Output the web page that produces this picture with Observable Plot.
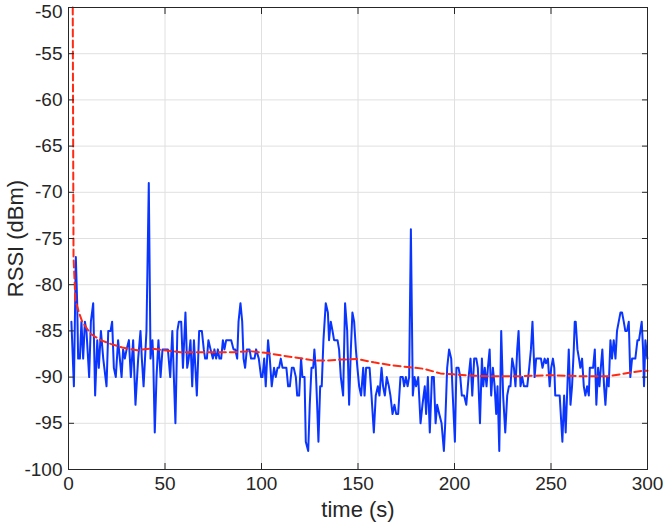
<!DOCTYPE html>
<html><head><meta charset="utf-8">
<script src="https://cdn.jsdelivr.net/npm/d3@7"></script>
<script src="https://cdn.jsdelivr.net/npm/@observablehq/plot@0.6"></script>
<style>body{margin:0;background:#fff} svg{font-family:"Liberation Sans",Arial,sans-serif}</style>
</head><body><div id="chart"></div>
<script>
const blueTime = [1.5,2.8,3.8,4.5,5.0,5.9,6.7,7.6,8.5,9.3,10.7,11.6,12.8,13.8,14.9,15.7,16.8,18.0,19.7,20.6,21.8,22.6,23.5,24.5,25.7,26.6,27.5,28.3,29.2,30.1,31.3,32.3,33.5,34.7,36.1,37.3,38.0,38.9,40.4,41.6,42.5,43.5,43.9,44.7,45.6,46.6,47.7,48.7,49.9,
51.5,52.7,53.8,55.4,56.4,57.2,58.4,59.3,60.6,61.5,62.3,63.2,64.1,65.0,66.5,67.7,69.1,70.1,70.8,71.7,72.5,73.6,74.8,75.6,76.5,77.4,78.2,79.1,80.0,80.8,81.7,82.9,84.3,85.5,86.4,87.4,88.1,89.1,90.0,90.7,91.5,92.4,93.8,94.6,96.4,97.2,98.6,99.8,
100.5,101.4,102.2,103.4,104.3,105.3,106.5,107.4,108.3,109.1,110.0,110.9,111.9,112.9,113.8,114.7,115.7,116.7,117.8,118.5,119.5,120.5,121.2,122.3,122.95,124.2,125.0,125.9,126.8,127.4,128.1,129.0,129.5,130.4,131.2,132.1,133.3,134.4,135.0,135.9,136.8,137.6,138.5,139.4,140.2,141.1,142.3,143.3,144.4,145.4,146.3,147.1,148.0,148.9,149.7,150.6,
151.6,152.7,153.4,154.2,155.1,156.0,157.0,158.2,159.2,160.3,161.1,162.2,163.0,163.9,164.9,166.0,166.8,167.9,168.9,169.8,170.8,172.0,173.2,173.9,174.8,175.7,176.5,177.4,178.4,179.3,180.1,181.2,182.4,183.4,184.6,185.3,186.2,187.2,188.3,189.3,190.2,191.0,192.1,193.3,194.5,195.2,196.2,197.2,198.3,199.1,200.2,201.0,
202.1,203.0,203.8,205.0,206.1,207.3,208.3,209.2,210.2,211.3,212.1,213.2,214.2,214.9,215.7,216.6,217.3,218.2,219.0,219.9,220.8,221.6,222.3,223.2,224.2,225.2,226.3,227.3,228.2,229.0,229.9,230.8,231.6,232.5,233.2,234.2,235.1,236.0,236.6,237.7,238.7,239.6,240.4,241.5,242.3,243.6,244.8,245.6,246.7,247.4,248.4,249.3,250.1,251.0,251.7,252.2,
252.8,254.5,255.9,256.8,257.6,258.5,259.2,260.1,260.9,261.8,262.3,262.8,263.7,264.5,265.2,266.1,267.0,267.8,268.7,269.6,270.1,270.9,271.8,272.7,273.5,274.4,275.1,275.8,276.6,277.5,278.2,279.1,279.9,280.8,281.6,282.5,283.4,284.2,285.1,286.0,286.8,287.7,288.5,289.4,290.3,291.1,292.0,292.9,293.7,294.8,295.6,296.3,297.0,297.7,298.2,298.9,299.4,299.9];
const blueRssi = [-84,-91,-77,-82,-88,-88,-84,-88,-84,-85,-90,-84,-82,-92,-86,-89,-85,-88,-91,-85,-85,-84,-89,-90,-86,-88,-90,-87,-88,-87,-86,-90,-86,-93,-88,-85,-88,-91,-85,-69,-88,-86,-88,-96,-90,-86,-90,-87,-87,
-87,-90,-85,-95,-85,-84,-84,-89,-83,-89,-88,-86,-91,-86,-92,-85,-85,-87,-88,-88,-86,-87,-88,-87,-88,-87,-88,-88,-86,-87,-86,-86,-86,-87,-87,-88,-84,-82,-84,-88,-89,-87,-87,-88,-88,-87,-88,-90,
-90,-88,-91,-86,-88,-91,-89,-90,-89,-89,-88,-89,-89,-89,-91,-91,-89,-89,-90,-92,-92,-88,-90,-90,-97,-98,-93,-89,-89,-87,-89,-94,-97,-91,-91,-86,-82,-83,-86,-84,-85,-86,-86,-86,-87,-90,-92,-82,-85,-93,-87,-83,-84,-87,-89,-91,
-92,-89,-92,-89,-89,-89,-92,-96,-92,-91,-92,-89,-91,-92,-90,-91,-92,-94,-93,-94,-94,-90,-90,-91,-90,-91,-90,-74,-92,-90,-91,-90,-95,-93,-91,-94,-90,-96,-90,-90,-95,-93,-94,-95,-98,-95,-89,-87,-88,-92,-97,-89,
-89,-90,-92,-92,-93,-90,-88,-92,-88,-88,-89,-95,-88,-91,-89,-91,-89,-87,-92,-89,-91,-94,-91,-98,-85,-92,-96,-92,-91,-91,-88,-89,-91,-87,-85,-91,-90,-91,-91,-91,-89,-87,-84,-90,-88,-88,-88,-89,-88,-88.5,-88,-91,-89,-88,-89,-92,
-92,-92,-97,-92,-96,-91,-87,-93,-91,-87,-84,-84,-87,-88,-89,-88,-91,-92,-91,-92,-89,-89,-89,-87,-93,-89,-91,-89,-87,-91,-93,-90,-91,-86,-88,-86,-88,-85,-84,-83,-83,-84,-85,-85,-84,-90,-88,-88,-88,-86,-86,-85,-84,-87,-91,-86,-87,-88];
const redTime = [2.2,2.6,3.6,5.4,7.1,11.4,16.6,21.8,27.8,35.6,42.5,49.4,58,68.4,85.7,94.3,103,111.6,120.2,127.1,134,140.9,149.6,158.2,166.8,175.5,184.1,192.7,199.6,210,218,234.2,249.7,265.3,279.1,286,291.2,298.1,300];
const redRssi = [-50,-77,-81.7,-83,-84,-85.3,-86,-86.4,-86.8,-87.1,-86.9,-87.1,-87.3,-87.3,-87.3,-87.2,-87.4,-87.7,-87.95,-88.2,-88.2,-88.1,-88.05,-88.4,-88.7,-88.9,-89.1,-89.6,-89.7,-89.85,-89.9,-89.9,-89.8,-89.9,-89.9,-89.7,-89.5,-89.3,-89.3];
const xTicks = [0,50,100,150,200,250,300];
const yTicks = [-100,-95,-90,-85,-80,-75,-70,-65,-60,-55,-50];
const xLabel = "time (s)";
const yLabel = "RSSI (dBm)";

const blue = blueTime.map((t,i)=>({t, v: blueRssi[i]}));
const red = redTime.map((t,i)=>({t, v: redRssi[i]}));
const ink = "#262626";
const yTop = yTicks[yTicks.length - 1];
const yRest = yTicks.slice(0, -1);

const chart = Plot.plot({
  width: 664, height: 525,
  marginLeft: 68, marginRight: 17, marginTop: 7, marginBottom: 56,
  style: {fontFamily: '"Liberation Sans", Arial, sans-serif', fontSize: "19px", color: ink, background: "#fff"},
  x: {domain: [0, 300]},
  y: {domain: [-100, -50]},
  marks: [
    Plot.gridX(xTicks, {stroke: "#e0e0e0", strokeOpacity: 1}),
    Plot.gridY(yTicks, {stroke: "#e0e0e0", strokeOpacity: 1}),
    Plot.line(blue, {x: "t", y: "v", stroke: "#0a35ff", strokeWidth: 2}),
    Plot.line(red, {x: "t", y: "v", stroke: "#ff2a14", strokeWidth: 2, strokeDasharray: "7,4"}),
    Plot.frame({stroke: ink, strokeWidth: 1}),
    Plot.axisX(xTicks, {anchor: "bottom", tickSize: -6, tickPadding: 13, label: null, stroke: ink, fill: ink}),
    Plot.axisX(xTicks, {anchor: "top", tickSize: -6, tickFormat: () => "", label: null, stroke: ink}),
    Plot.axisY(yRest, {anchor: "left", tickSize: -6, tickPadding: 12, tickFormat: d => String(d), label: null, stroke: ink, fill: ink}),
    Plot.axisY([yTop], {anchor: "left", tickSize: 0, tickPadding: 6, tickFormat: d => String(d), label: null, fill: ink, dy: 4}),
    Plot.axisY(yTicks, {anchor: "right", tickSize: -6, tickFormat: () => "", label: null, stroke: ink}),
    Plot.text([xLabel], {frameAnchor: "bottom", textAnchor: "middle", lineAnchor: "bottom", dy: 47, fontSize: 22, fill: ink}),
    Plot.text([yLabel], {frameAnchor: "left", textAnchor: "middle", lineAnchor: "middle", dx: -53, rotate: -90, fontSize: 22, fill: ink})
  ]
});
document.getElementById("chart").appendChild(chart);
</script>
</body></html>
